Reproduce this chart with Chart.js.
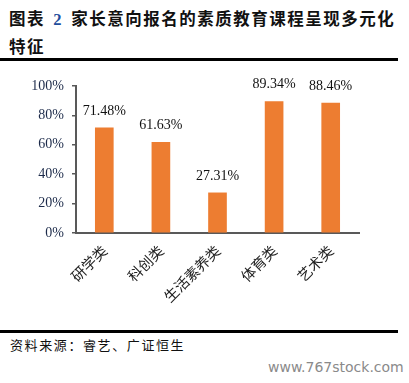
<!DOCTYPE html>
<html><head><meta charset="utf-8">
<script src="https://cdn.jsdelivr.net/npm/chart.js@4"></script>
<style>
html,body{margin:0;padding:0;background:#fff;width:409px;height:383px;overflow:hidden;position:relative;}
#title{position:absolute;left:9px;top:5px;width:395px;font-family:"Noto Sans CJK SC";font-weight:bold;font-size:16.5px;line-height:26px;color:#111;letter-spacing:1.5px;}
#title .n{color:#1f4e9c;font-family:"Liberation Serif";margin:0 3px;}
.rule{position:absolute;left:0;width:398px;height:3px;background:#000;}
#src{position:absolute;left:10px;top:335px;font-family:"Noto Sans CJK SC";font-size:13px;color:#111;letter-spacing:1.6px;}
#wm{position:absolute;left:268px;top:359px;font-family:"DejaVu Sans";font-size:14px;color:#8a8a8a;}
#wrap{position:absolute;left:0;top:62px;width:400px;height:265px;}
</style></head><body>
<div id="title">图表 <span class="n">2</span> 家长意向报名的素质教育课程呈现多元化<br>特征</div>
<div class="rule" style="top:58px"></div>
<div id="wrap"><canvas id="c" width="400" height="265"></canvas></div>
<div class="rule" style="top:330px"></div>
<div id="src">资料来源：睿艺、广证恒生</div>
<div id="wm">www.767stock.com</div>
<script>
const categories = ["研学类","科创类","生活素养类","体育类","艺术类"];
const values = [71.48, 61.63, 27.31, 89.34, 88.46];
const yTicks = [0,20,40,60,80,100];

const labelPlugin = {
  id:'lbl',
  afterDatasetsDraw(chart){
    const ctx = chart.ctx;
    const meta = chart.getDatasetMeta(0);
    ctx.save();
    ctx.font = '14px "Liberation Serif"';
    ctx.fillStyle = '#111';
    ctx.textAlign = 'center';
    ctx.textBaseline = 'middle';
    meta.data.forEach((bar,i)=>{
      ctx.fillText(values[i].toFixed(2)+'%', bar.x, bar.y-17);
    });
    ctx.restore();
  }
};

new Chart(document.getElementById('c'), {
  type:'bar',
  data:{labels:categories, datasets:[{data:values, backgroundColor:'#ED7D31', borderWidth:0, barThickness:18}]},
  options:{
    responsive:false, animation:false,
    layout:{padding:{top:24,right:41,left:0,bottom:0}},
    plugins:{legend:{display:false}, tooltip:{enabled:false}},
    scales:{
      y:{min:0,max:100,
        afterBuildTicks(s){ s.ticks = yTicks.map(v=>({value:v})); },
        afterFit(s){ s.width = 76; },
        grid:{drawOnChartArea:false, drawTicks:true, tickLength:4, color:'#595959', lineWidth:1.5},
        border:{display:true, color:'#595959', width:2},
        ticks:{padding:8, color:'#1d2b4a', font:{family:'"Liberation Serif"', size:14}, callback:v=>v+'%'}
      },
      x:{
        afterFit(s){ s.height = 94; },
        grid:{display:false, drawTicks:false},
        border:{display:true, color:'#595959', width:2},
        ticks:{maxRotation:45, minRotation:45, padding:9, color:'#222', font:{family:'"Noto Sans CJK SC"', size:14.5}}
      }
    }
  },
  plugins:[labelPlugin]
});
</script>
</body></html>
